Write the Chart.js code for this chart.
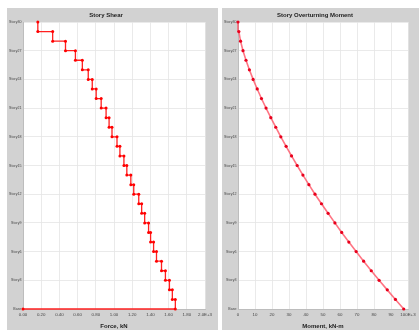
<!DOCTYPE html>
<html>
<head>
<meta charset="utf-8">
<title>Story Shear / Story Overturning Moment</title>
<script src="https://cdn.jsdelivr.net/npm/chart.js@4.4.1/dist/chart.umd.min.js"></script>
<style>
  body {
    margin: 0;
    width: 419px;
    height: 330px;
    background: #fff;
    position: relative;
    overflow: hidden;
  }
  .panel {
    position: absolute;
    background: #d2d2d2;
  }
  #leftPanel { left: 7px; top: 8px; width: 211px; height: 322px; }
  #rightPanel { left: 222px; top: 8px; width: 197px; height: 322px; }
</style>
</head>
<body>
<div class="panel" id="leftPanel"><canvas id="shearChart"></canvas></div>
<div class="panel" id="rightPanel"><canvas id="momentChart"></canvas></div>

<script>
// Nombres de niveles (Base .. Story30)
const storyNames = [
  "Base", "Story1", "Story2", "Story3", "Story4", "Story5", "Story6", "Story7",
  "Story8", "Story9", "Story10", "Story11", "Story12", "Story13", "Story14",
  "Story15", "Story16", "Story17", "Story18", "Story19", "Story20", "Story21",
  "Story22", "Story23", "Story24", "Story25", "Story26", "Story27", "Story28",
  "Story29", "Story30",
];

// Cortante por piso, kN (Story1 .. Story30)
const storyShear = [
  1674, 1641, 1609, 1565, 1522, 1467, 1435, 1402, 1380, 1337,
  1304, 1272, 1217, 1185, 1141, 1109, 1065, 1033, 978, 946,
  913, 859, 804, 761, 717, 652, 576, 467, 326, 163,
];

// Momento de volteo por nivel, kN-m (Base .. Story30)
const storyMoment = [
  97500, 92600, 87800, 83000, 78400, 73900, 69500, 65200, 61000, 57000,
  53000, 49100, 45300, 41700, 38200, 34800, 31500, 28300, 25200, 22200,
  19300, 16500, 13800, 11300, 8900, 6700, 4700, 2950, 1500, 500, 0,
];

// Etiquetas del eje X
const shearTicks = ["0.00", "0.20", "0.40", "0.60", "0.80", "1.00", "1.20", "1.40", "1.60", "1.80", "2.0E+3"];
const momentTicks = ["0", "10", "20", "30", "40", "50", "60", "70", "80", "90", "100E+3"];

const FONT = "'Liberation Sans', Arial, sans-serif";

// Fondo blanco del área de trazado
const plotBg = {
  id: "plotBg",
  beforeDraw(chart) {
    const { ctx, chartArea: a } = chart;
    ctx.save();
    ctx.fillStyle = "#fff";
    ctx.fillRect(a.left, a.top, a.right - a.left, a.bottom - a.top);
    ctx.restore();
  },
};

// Escalera del cortante: (0,Base) -> (V1,Base) -> (V1,Story1) -> (V2,Story1) ...
const shearPoints = [{ x: 0, y: 0 }];
storyShear.forEach((v, i) => {
  shearPoints.push({ x: v, y: i });
  shearPoints.push({ x: v, y: i + 1 });
});

const momentPoints = storyMoment.map((m, i) => ({ x: m, y: i }));

function yScale() {
  return {
    type: "linear",
    min: 0,
    max: 30,
    afterFit: (s) => { s.width = 16; },
    ticks: {
      stepSize: 3,
      autoSkip: false,
      padding: 1.5,
      color: "#444",
      font: { family: FONT, size: 3.6 },
      callback: (v) => storyNames[v],
    },
    grid: { color: "#e4e4e4", drawTicks: false, lineWidth: 0.8 },
    border: { color: "#bdbdbd" },
  };
}

function xScale(max, step, labels, title) {
  return {
    type: "linear",
    min: 0,
    max: max,
    afterFit: (s) => { s.height = 21; },
    ticks: {
      stepSize: step,
      autoSkip: false,
      maxRotation: 0,
      padding: 3,
      color: "#444",
      font: { family: FONT, size: 4.4 },
      callback: (v) => labels[Math.round(v / step)],
    },
    grid: { color: "#e4e4e4", drawTicks: false, lineWidth: 0.8 },
    border: { color: "#bdbdbd" },
    title: {
      display: true,
      text: title,
      color: "#222",
      font: { family: FONT, size: 6, weight: "bold" },
      padding: { top: 0, bottom: 0.5 },
    },
  };
}

function baseOptions(title, rightPad, xs) {
  return {
    responsive: true,
    maintainAspectRatio: false,
    animation: false,
    events: [],
    layout: { padding: { left: 0, right: rightPad, top: 0, bottom: 0 } },
    plugins: {
      legend: { display: false },
      tooltip: { enabled: false },
      title: {
        display: true,
        text: title,
        color: "#222",
        font: { family: FONT, size: 6, weight: "bold", lineHeight: 1 },
        padding: { top: 4, bottom: 4 },
      },
    },
    scales: { x: xs, y: yScale() },
  };
}

new Chart(document.getElementById("shearChart").getContext("2d"), {
  type: "scatter",
  data: {
    datasets: [
      {
        data: shearPoints,
        showLine: true,
        borderColor: "#ff2020",
        borderWidth: 1.3,
        pointRadius: 1.5,
        pointBackgroundColor: "#ff0000",
        pointBorderWidth: 0,
        clip: 5,
      },
    ],
  },
  options: baseOptions("Story Shear", 13, xScale(2000, 200, shearTicks, "Force, kN")),
  plugins: [plotBg],
});

new Chart(document.getElementById("momentChart").getContext("2d"), {
  type: "scatter",
  data: {
    datasets: [
      {
        data: momentPoints,
        showLine: true,
        borderColor: "rgba(255,70,90,0.75)",
        borderWidth: 1.6,
        pointRadius: 1.6,
        pointBackgroundColor: "#e8001c",
        pointBorderWidth: 0,
        clip: 5,
      },
    ],
  },
  options: baseOptions("Story Overturning Moment", 11, xScale(100000, 10000, momentTicks, "Moment, kN-m")),
  plugins: [plotBg],
});
</script>
</body>
</html>
